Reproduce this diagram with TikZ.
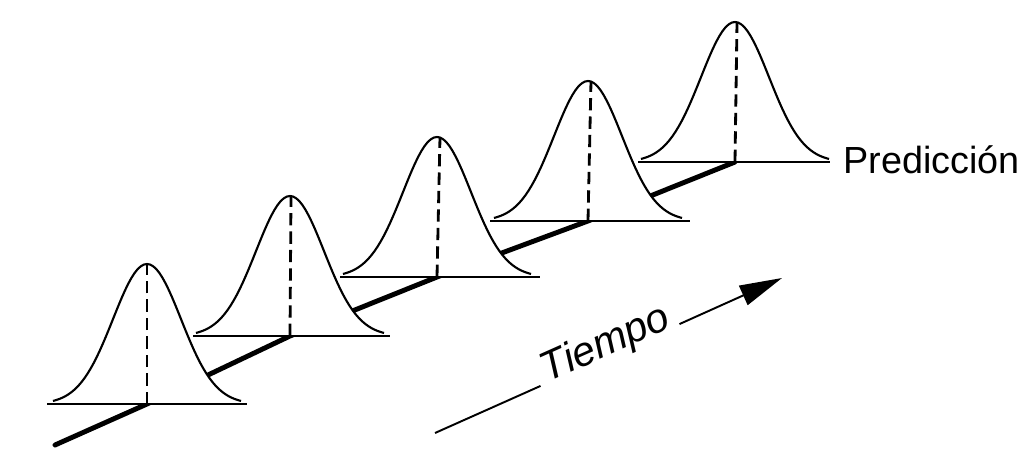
\documentclass[tikz,border=0pt]{standalone}
\usepackage{fontspec}
\newfontfamily\labelfont{Liberation Sans}
\usetikzlibrary{arrows.meta}
\begin{document}
\begin{tikzpicture}[x=0.02cm, y=-0.02cm,
        bellfill/.style={fill=white},
        bell/.style={draw=black, line width=1.2pt, line join=round},
        baseln/.style={draw=black, line width=1.3pt},
        peakln/.style={draw=black, line width=1.6pt, dash pattern=on 7pt off 3.5pt},
        timeaxis/.style={draw=black, line width=2.8pt, line cap=round, line join=round},
        tarrow/.style={draw=black, line width=1.1pt},
        tlabel/.style={font=\labelfont\itshape\fontsize{23.5}{27}\selectfont, inner sep=4pt, rotate=24, anchor=base},
        plabel/.style={font=\labelfont\fontsize{21.5}{25}\selectfont, inner sep=0pt, anchor=base west}]
                \useasboundingbox (0,0) rectangle (1031,450);
                \coordinate (a0) at (55,445);
                \coordinate (c1) at (147,404);
                \coordinate (c2) at (290,336);
                \coordinate (c3) at (437,277);
                \coordinate (c4) at (588,221);
                \coordinate (c5) at (735,162);
                \draw[timeaxis] (a0) -- (c1) -- (c2) -- (c3) -- (c4) -- (c5);
                % back to front
                \fill[bellfill] (641,162) -- plot[domain=-94:94, samples=61] ({735+\x},{162-140*exp(-0.5*(\x/34)^2)}) -- (829,162) -- cycle;
                \draw[bell] plot[domain=-94:94, samples=61] ({735+\x},{162-140*exp(-0.5*(\x/34)^2)});
                \draw[baseln] (638,162) -- (830,162);
                \draw[peakln] (c5) -- ++(2,-140);
                \fill[bellfill] (494,221) -- plot[domain=-94:94, samples=61] ({588+\x},{221-140*exp(-0.5*(\x/34)^2)}) -- (682,221) -- cycle;
                \draw[bell] plot[domain=-94:94, samples=61] ({588+\x},{221-140*exp(-0.5*(\x/34)^2)});
                \draw[baseln] (490,221) -- (690,221);
                \draw[peakln] (c4) -- ++(3,-140);
                \fill[bellfill] (343,277) -- plot[domain=-94:94, samples=61] ({437+\x},{277-140*exp(-0.5*(\x/34)^2)}) -- (531,277) -- cycle;
                \draw[bell] plot[domain=-94:94, samples=61] ({437+\x},{277-140*exp(-0.5*(\x/34)^2)});
                \draw[baseln] (340,277) -- (540,277);
                \draw[peakln] (c3) -- ++(3,-140);
                \fill[bellfill] (196,336) -- plot[domain=-94:94, samples=61] ({290+\x},{336-140*exp(-0.5*(\x/34)^2)}) -- (384,336) -- cycle;
                \draw[bell] plot[domain=-94:94, samples=61] ({290+\x},{336-140*exp(-0.5*(\x/34)^2)});
                \draw[baseln] (193,336) -- (390,336);
                \draw[peakln] (c2) -- ++(1,-140);
                \fill[bellfill] (53,404) -- plot[domain=-94:94, samples=61] ({147+\x},{404-140*exp(-0.5*(\x/34)^2)}) -- (241,404) -- cycle;
                \draw[bell] plot[domain=-94:94, samples=61] ({147+\x},{404-140*exp(-0.5*(\x/34)^2)});
                \draw[baseln] (47,404) -- (247,404);
                \draw[peakln] (c1) -- ++(0,-140);
                \node[plabel] (pred) at (843,173) {Predicción};
                \coordinate (t0) at (435,433);
                \coordinate (t1) at (782,278);
                \node[tlabel] (tiempo) at (610,355) {Tiempo};
                \draw[tarrow] (t0) -- (tiempo.base west);
                \draw[tarrow, -{Triangle[length=0.85cm, width=0.42cm]}] (tiempo.base east) -- (t1);
\end{tikzpicture}
\end{document}
